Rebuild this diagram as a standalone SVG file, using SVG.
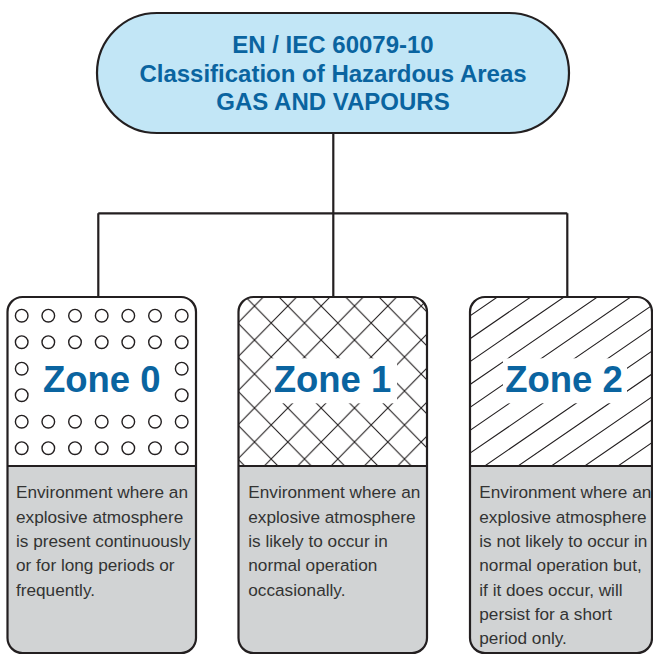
<svg xmlns="http://www.w3.org/2000/svg" width="653" height="655" viewBox="0 0 653 655">
<style>
.ln{fill:none;stroke:#231f20;stroke-width:2.2}
.title{font-family:"Liberation Sans",Arial,sans-serif;font-weight:bold;font-size:24px;fill:#0a64a0;text-anchor:middle}
.zone{font-family:"Liberation Sans",Arial,sans-serif;font-weight:bold;font-size:36.5px;fill:#0a64a0;text-anchor:middle}
.body{font-family:"Liberation Sans",Arial,sans-serif;font-size:17.2px;fill:#333}
.gray{fill:#d1d3d4}
.dot{fill:none;stroke:#231f20;stroke-width:1.4}
.h{stroke:#231f20;stroke-width:1.1;fill:none}
</style>
<defs>
<pattern id="cross" patternUnits="userSpaceOnUse" x="254.5" y="306" width="33.33" height="34">
<rect width="33.33" height="34" fill="#fff"/>
<path class="h" d="M0,0 L33.33,34 M0,34 L33.33,0"/>
</pattern>
<clipPath id="z2top">
<path d="M470,466 V312 A15,15 0 0 1 485,297 H637 A15,15 0 0 1 652,312 V466 Z"/>
</clipPath>
</defs>
<rect width="653" height="655" fill="#fff"/>

<g id="connectors">
<path class="ln" d="M333.3,133 V213.3 M98.3,213.3 H567.3 M98.3,213.3 V297 M333.3,213.3 V297 M567.3,213.3 V297"/>
</g>

<g id="title">
<rect x="97" y="13" width="472" height="120" rx="60" fill="#c2e6f6" stroke="#231f20" stroke-width="2.2"/>
<text class="title" x="333" y="53.3">EN / IEC 60079-10</text>
<text class="title" x="333" y="81.7">Classification of Hazardous Areas</text>
<text class="title" x="333" y="110">GAS AND VAPOURS</text>
</g>

<g id="zone0">
<path d="M7.5,466 V312 A15,15 0 0 1 22.5,297 H181 A15,15 0 0 1 196,312 V466 Z" fill="#fff"/>
<path class="gray" d="M7.5,466 H196 V638 A15,15 0 0 1 181,653 H22.5 A15,15 0 0 1 7.5,638 Z"/>
<g class="dot">
<circle cx="21.7" cy="315.7" r="6.3"/><circle cx="48.3" cy="315.7" r="6.3"/><circle cx="75" cy="315.7" r="6.3"/><circle cx="101.7" cy="315.7" r="6.3"/><circle cx="128.3" cy="315.7" r="6.3"/><circle cx="155" cy="315.7" r="6.3"/><circle cx="181.7" cy="315.7" r="6.3"/>
<circle cx="21.7" cy="342.2" r="6.3"/><circle cx="48.3" cy="342.2" r="6.3"/><circle cx="75" cy="342.2" r="6.3"/><circle cx="101.7" cy="342.2" r="6.3"/><circle cx="128.3" cy="342.2" r="6.3"/><circle cx="155" cy="342.2" r="6.3"/><circle cx="181.7" cy="342.2" r="6.3"/>
<circle cx="21.7" cy="368.7" r="6.3"/><circle cx="181.7" cy="368.7" r="6.3"/>
<circle cx="21.7" cy="395.2" r="6.3"/><circle cx="181.7" cy="395.2" r="6.3"/>
<circle cx="21.7" cy="421.7" r="6.3"/><circle cx="48.3" cy="421.7" r="6.3"/><circle cx="75" cy="421.7" r="6.3"/><circle cx="101.7" cy="421.7" r="6.3"/><circle cx="128.3" cy="421.7" r="6.3"/><circle cx="155" cy="421.7" r="6.3"/><circle cx="181.7" cy="421.7" r="6.3"/>
<circle cx="21.7" cy="448.2" r="6.3"/><circle cx="48.3" cy="448.2" r="6.3"/><circle cx="75" cy="448.2" r="6.3"/><circle cx="101.7" cy="448.2" r="6.3"/><circle cx="128.3" cy="448.2" r="6.3"/><circle cx="155" cy="448.2" r="6.3"/><circle cx="181.7" cy="448.2" r="6.3"/>
</g>
<text class="zone" x="101.7" y="392">Zone 0</text>
<rect class="ln" x="7.5" y="297" width="188.5" height="356" rx="15"/>
<path class="ln" d="M7.5,466 H196"/>
<text class="body" x="16" y="498.3">Environment where an</text>
<text class="body" x="16" y="522.6">explosive atmosphere</text>
<text class="body" x="16" y="546.9">is present continuously</text>
<text class="body" x="16" y="571.2">or for long periods or</text>
<text class="body" x="16" y="595.5">frequently.</text>
</g>

<g id="zone1">
<path d="M238.5,466 V312 A15,15 0 0 1 253.5,297 H412 A15,15 0 0 1 427,312 V466 Z" fill="url(#cross)"/>
<path class="gray" d="M238.5,466 H427 V638 A15,15 0 0 1 412,653 H253.5 A15,15 0 0 1 238.5,638 Z"/>
<rect x="271" y="358.3" width="126" height="45" fill="#fff"/>
<text class="zone" x="332.5" y="392">Zone 1</text>
<rect class="ln" x="238.5" y="297" width="188.5" height="356" rx="15"/>
<path class="ln" d="M238.5,466 H427"/>
<text class="body" x="248.3" y="498.3">Environment where an</text>
<text class="body" x="248.3" y="522.6">explosive atmosphere</text>
<text class="body" x="248.3" y="546.9">is likely to occur in</text>
<text class="body" x="248.3" y="571.2">normal operation</text>
<text class="body" x="248.3" y="595.5">occasionally.</text>
</g>

<g id="zone2">
<path d="M470,466 V312 A15,15 0 0 1 485,297 H637 A15,15 0 0 1 652,312 V466 Z" fill="#fff"/>
<path class="h" clip-path="url(#z2top)" d="M477.93,287.5 l-265.7,182.5 M511.26,287.5 l-265.7,182.5 M544.59,287.5 l-265.7,182.5 M577.92,287.5 l-265.7,182.5 M611.25,287.5 l-265.7,182.5 M644.58,287.5 l-265.7,182.5 M677.91,287.5 l-265.7,182.5 M711.24,287.5 l-265.7,182.5 M744.57,287.5 l-265.7,182.5 M777.9,287.5 l-265.7,182.5 M811.23,287.5 l-265.7,182.5 M844.56,287.5 l-265.7,182.5 M877.89,287.5 l-265.7,182.5 M911.22,287.5 l-265.7,182.5"/>
<path class="gray" d="M470,466 H652 V638 A15,15 0 0 1 637,653 H485 A15,15 0 0 1 470,638 Z"/>
<rect x="503" y="358.3" width="124" height="45" fill="#fff"/>
<text class="zone" x="564" y="392">Zone 2</text>
<rect class="ln" x="470" y="297" width="182" height="356" rx="15"/>
<path class="ln" d="M470,466 H652"/>
<text class="body" x="479.3" y="498.3">Environment where an</text>
<text class="body" x="479.3" y="522.6">explosive atmosphere</text>
<text class="body" x="479.3" y="546.9">is not likely to occur in</text>
<text class="body" x="479.3" y="571.2">normal operation but,</text>
<text class="body" x="479.3" y="595.5">if it does occur, will</text>
<text class="body" x="479.3" y="619.8">persist for a short</text>
<text class="body" x="479.3" y="644.1">period only.</text>
</g>
</svg>
